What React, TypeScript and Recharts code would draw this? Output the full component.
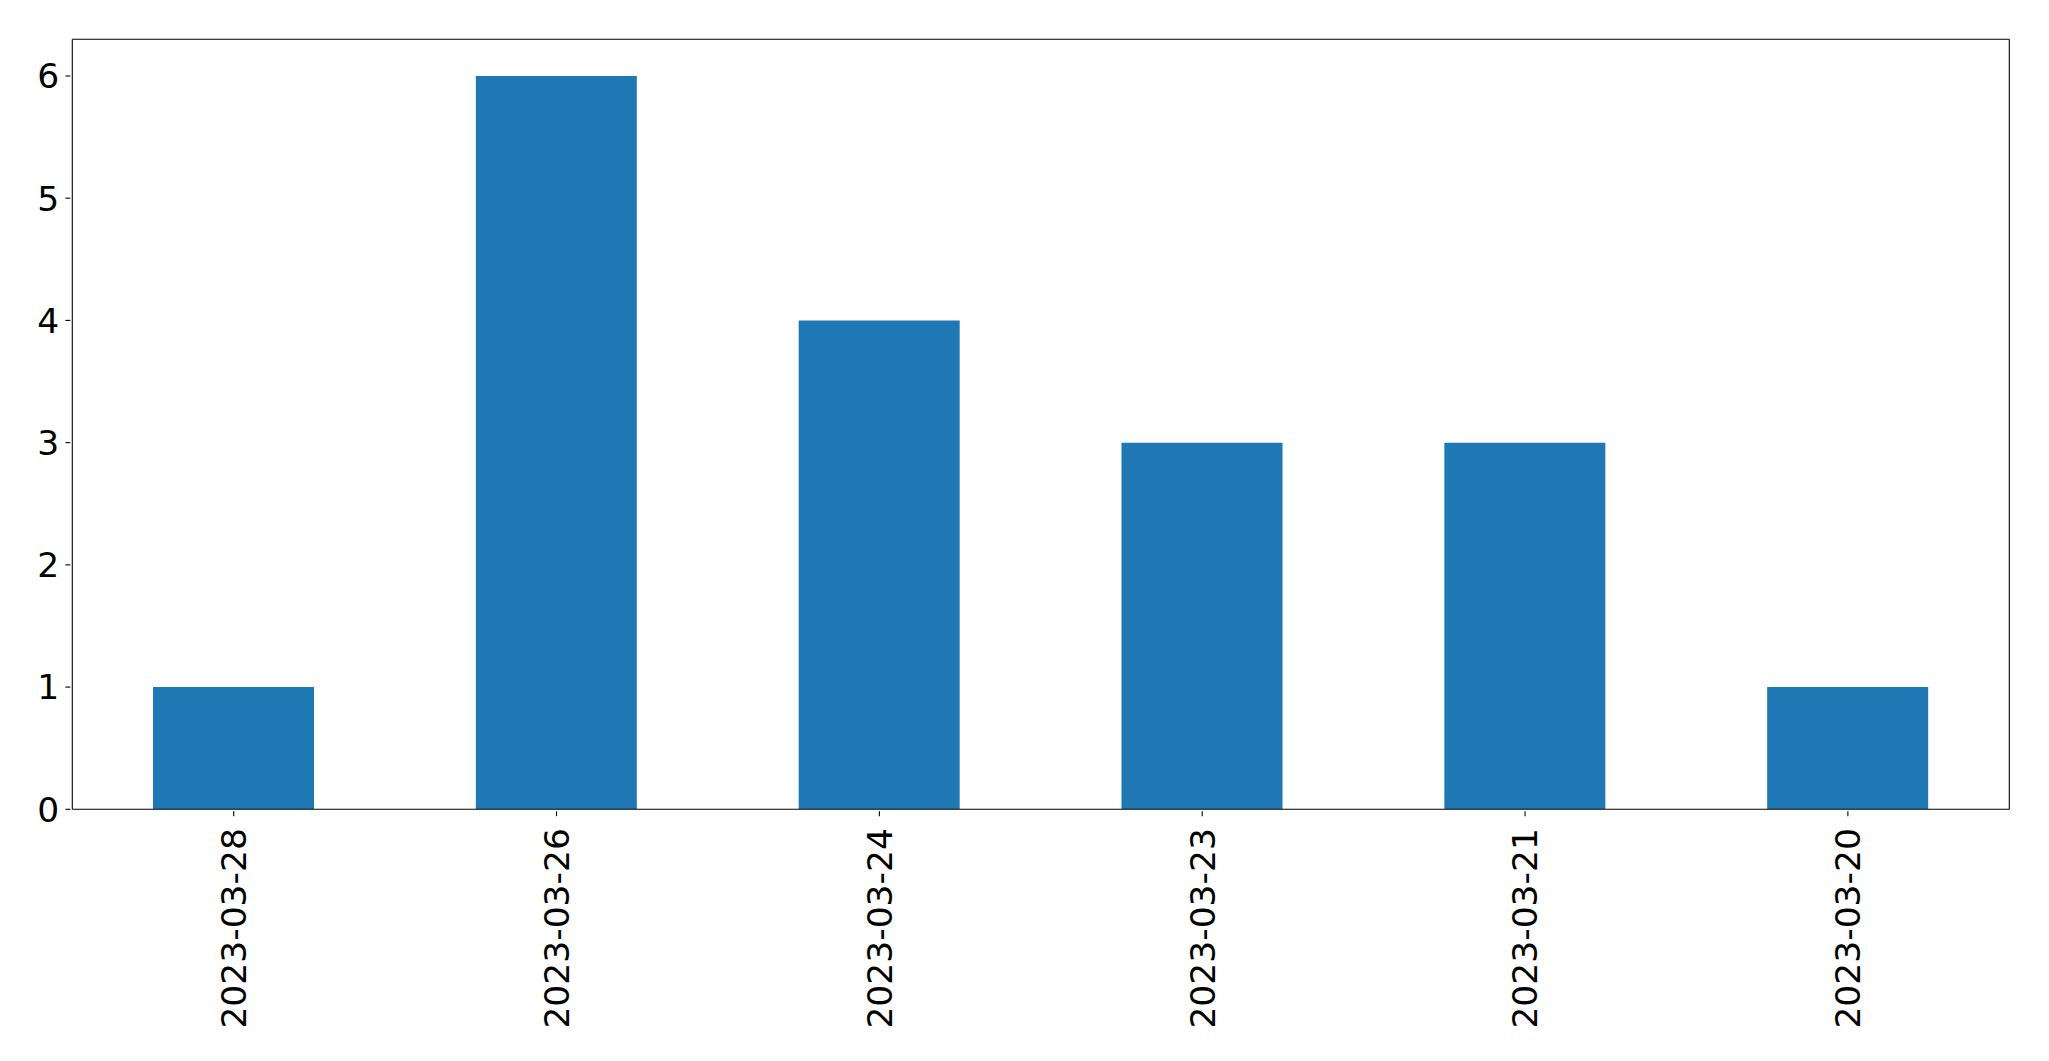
import React from "react";
import { BarChart, Bar, XAxis, YAxis, ReferenceLine } from "recharts";

const categories = ["2023-03-28", "2023-03-26", "2023-03-24", "2023-03-23", "2023-03-21", "2023-03-20"];
const counts = [1, 6, 4, 3, 3, 1];
const yTicks = [0, 1, 2, 3, 4, 5, 6];
const yMax = 6.3;

const data = categories.map((c, i) => ({ date: c, count: counts[i] }));

const FONT = "'DejaVu Sans', sans-serif";
const FS = 34.5;

const XTick = (props: any) => {
  const { x, y, payload } = props;
  return (
    <g transform={`translate(${x},${y})`}>
      <line x1={0} y1={0} x2={0} y2={4.9} stroke="#000" strokeWidth={1.1} />
      <text
        transform="rotate(-90)"
        x={-16.8}
        y={0}
        dy="0.36em"
        textAnchor="end"
        fontFamily={FONT}
        fontSize={FS}
        fill="#000"
      >
        {payload.value}
      </text>
    </g>
  );
};

const YTick = (props: any) => {
  const { x, y, payload } = props;
  return (
    <g transform={`translate(${x},${y})`}>
      <line x1={-4.9} y1={0} x2={0} y2={0} stroke="#000" strokeWidth={1.1} />
      <text x={-11} y={0} dy="0.36em" textAnchor="end" fontFamily={FONT} fontSize={FS} fill="#000">
        {payload.value}
      </text>
    </g>
  );
};

export default function App() {
  return (
    <div style={{ position: "absolute", left: 0, top: 0, width: 2049, height: 1061, background: "#fff" }}>
      <BarChart
        width={2049}
        height={1061}
        data={data}
        margin={{ top: 39.3, right: 38.7, bottom: 0, left: 0 }}
        barCategoryGap="25%"
      >
        <XAxis
          dataKey="date"
          height={251.7}
          interval={0}
          tickSize={0}
          tickLine={false}
          axisLine={{ stroke: "#000", strokeWidth: 1.1 }}
          tick={<XTick />}
        />
        <YAxis
          yAxisId="main"
          width={72.3}
          domain={[0, yMax]}
          ticks={yTicks}
          allowDataOverflow
          tickSize={0}
          tickLine={false}
          axisLine={{ stroke: "#000", strokeWidth: 1.1 }}
          tick={<YTick />}
        />
        <YAxis
          yAxisId="right"
          orientation="right"
          width={1}
          domain={[0, yMax]}
          tick={false}
          tickLine={false}
          axisLine={{ stroke: "#000", strokeWidth: 1.1 }}
        />
        <Bar dataKey="count" yAxisId="main" fill="#1f77b4" isAnimationActive={false} />
        <ReferenceLine y={yMax} yAxisId="main" stroke="#000" strokeWidth={1.1} ifOverflow="visible" />
      </BarChart>
    </div>
  );
}
